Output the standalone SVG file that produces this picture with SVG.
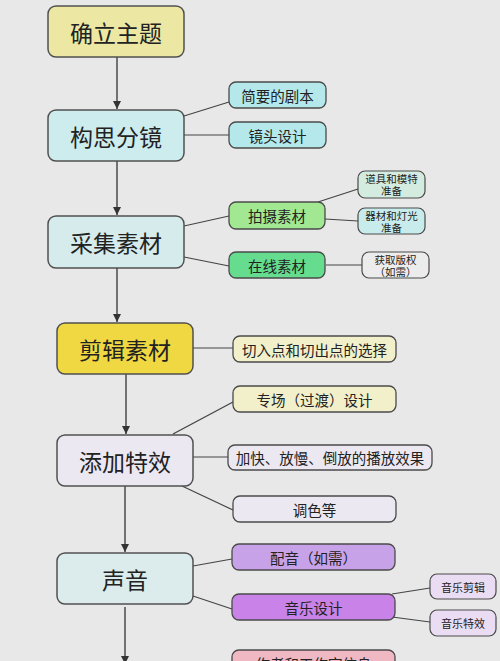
<svg xmlns="http://www.w3.org/2000/svg" width="500" height="661" viewBox="0 0 500 661">
<defs>
<style>
.main rect{stroke:#505050;stroke-width:1.5}
.sub rect{stroke:#4a4a4a;stroke-width:1.3}
.sm rect{stroke:#4a4a4a;stroke-width:1.2}
text{font-family:"Noto Sans CJK SC","Noto Sans",sans-serif;fill:#222;text-anchor:middle;dominant-baseline:central}
.main text{font-size:23px}
.sub text{font-size:14.5px}
.sm text{font-size:11px}
.sm text.two{font-family:"Liberation Sans","Noto Sans CJK SC",sans-serif;font-size:10.5px;dominant-baseline:auto}
.links line{stroke:#444;stroke-width:1.2}
.arrows line{stroke:#333;stroke-width:1.3;marker-end:url(#ah)}
</style>
<marker id="ah" viewBox="0 0 10 10" refX="10" refY="5" markerWidth="8" markerHeight="8" markerUnits="userSpaceOnUse" orient="auto">
<path d="M0,0 L10,5 L0,10 z" fill="#333"/>
</marker>
</defs>
<rect width="500" height="661" fill="#e8e8e8"/>
<g id="connectors">
<g class="arrows">
<line x1="117" y1="57" x2="117" y2="109"/>
<line x1="117" y1="161" x2="117" y2="215"/>
<line x1="117" y1="268" x2="117" y2="322"/>
<line x1="126" y1="374" x2="126" y2="434"/>
<line x1="125" y1="486" x2="125" y2="552"/>
<line x1="125" y1="607" x2="125" y2="664"/>
</g>
<g class="links">
<line x1="184" y1="116" x2="229" y2="102"/>
<line x1="184" y1="135" x2="229" y2="135"/>
<line x1="184" y1="226" x2="229" y2="216"/>
<line x1="184" y1="257" x2="229" y2="266"/>
<line x1="318" y1="202" x2="358" y2="189"/>
<line x1="325" y1="219" x2="358" y2="221"/>
<line x1="326" y1="265" x2="362" y2="265"/>
<line x1="193" y1="348" x2="233" y2="348"/>
<line x1="173" y1="434" x2="233" y2="402"/>
<line x1="193" y1="457" x2="228" y2="457"/>
<line x1="182" y1="486" x2="233" y2="510"/>
<line x1="193" y1="566" x2="232" y2="559"/>
<line x1="193" y1="596" x2="232" y2="609"/>
<line x1="392" y1="594" x2="430" y2="588"/>
<line x1="392" y1="617" x2="430" y2="622"/>
</g>
</g>
<g id="n1" class="main"><rect x="48" y="6" width="136" height="51" rx="8" fill="#ece8a4"/><text x="116" y="31.5">确立主题</text></g>
<g id="n2" class="main"><rect x="48" y="110" width="136" height="51" rx="8" fill="#cdecee"/><text x="116" y="135.5">构思分镜</text></g>
<g id="n2a" class="sub"><rect x="229" y="82" width="97" height="26" rx="7" fill="#b4e8ea"/><text x="277.5" y="95">简要的剧本</text></g>
<g id="n2b" class="sub"><rect x="229" y="122" width="97" height="26" rx="7" fill="#b4e8ea"/><text x="277.5" y="135">镜头设计</text></g>
<g id="n3" class="main"><rect x="48" y="216" width="136" height="52" rx="8" fill="#d6ecec"/><text x="116" y="242">采集素材</text></g>
<g id="n3a" class="sub"><rect x="229" y="202" width="96" height="27" rx="7" fill="#a2e892"/><text x="277" y="215.5">拍摄素材</text></g>
<g id="n3b" class="sub"><rect x="229" y="252" width="96" height="26" rx="7" fill="#66dc8e"/><text x="277" y="265">在线素材</text></g>
<g id="n3a1" class="sm"><rect x="358" y="171" width="67" height="27" rx="7" fill="#d4ece0"/><text class="two" x="391.5" y="183"><tspan x="391.5">道具和模特</tspan><tspan x="391.5" dy="12">准备</tspan></text></g>
<g id="n3a2" class="sm"><rect x="358" y="208" width="67" height="26" rx="7" fill="#c8ecec"/><text class="two" x="391.5" y="219.5"><tspan x="391.5">器材和灯光</tspan><tspan x="391.5" dy="12">准备</tspan></text></g>
<g id="n3b1" class="sm"><rect x="362" y="252" width="67" height="26" rx="7" fill="#ececec"/><text class="two" x="395.5" y="263.5"><tspan x="395.5">获取版权</tspan><tspan x="395.5" dy="12">（如需）</tspan></text></g>
<g id="n4" class="main"><rect x="57" y="323" width="136" height="51" rx="8" fill="#f0d842"/><text x="125" y="348.5">剪辑素材</text></g>
<g id="n4a" class="sub"><rect x="233" y="336" width="163" height="26" rx="7" fill="#f2f0ca"/><text x="314.5" y="349">切入点和切出点的选择</text></g>
<g id="n5a" class="sub"><rect x="233" y="386" width="163" height="26" rx="7" fill="#f2f0ca"/><text x="314.5" y="399">专场（过渡）设计</text></g>
<g id="n5" class="main"><rect x="57" y="435" width="136" height="51" rx="8" fill="#ece8f2"/><text x="125" y="460.5">添加特效</text></g>
<g id="n5b" class="sub"><rect x="228" y="445" width="204" height="25" rx="7" fill="#ece8f2"/><text x="330" y="457.5">加快、放慢、倒放的播放效果</text></g>
<g id="n5c" class="sub"><rect x="233" y="496" width="163" height="26" rx="7" fill="#ece8f2"/><text x="314.5" y="509">调色等</text></g>
<g id="n6" class="main"><rect x="57" y="553" width="136" height="51" rx="8" fill="#dcecec"/><text x="125" y="578.5">声音</text></g>
<g id="n6a" class="sub"><rect x="232" y="544" width="163" height="26" rx="7" fill="#c8a2e8"/><text x="313.5" y="557">配音（如需）</text></g>
<g id="n6b" class="sub"><rect x="232" y="594" width="163" height="26" rx="7" fill="#c882e8"/><text x="313.5" y="607">音乐设计</text></g>
<g id="n6b1" class="sm"><rect x="430" y="574" width="66" height="25" rx="7" fill="#eadcf2"/><text x="463" y="586.5">音乐剪辑</text></g>
<g id="n6b2" class="sm"><rect x="430" y="610" width="66" height="26" rx="7" fill="#eadcf2"/><text x="463" y="623">音乐特效</text></g>
<g id="n7" class="sub"><rect x="232" y="650" width="163" height="26" rx="7" fill="#f0b8c2"/><text x="313.5" y="663">作者和工作室信息</text></g>
</svg>
